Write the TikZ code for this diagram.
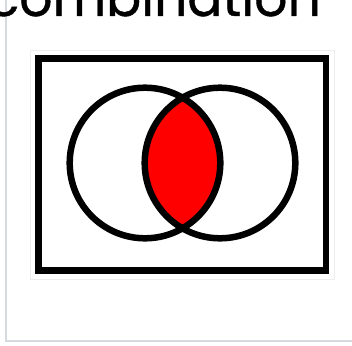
\documentclass[tikz,border=0pt]{standalone}
\usepackage{fontspec}
\setmainfont{Poppins}
\newfontfamily\titlefont{Poppins}[FakeBold=0.8]
\begin{document}
\begin{tikzpicture}[x=1pt,y=-1pt,
  imgframe/.style={draw=black!7, line width=1pt},
  venn/.style={draw=black, line width=6.5pt}]
\useasboundingbox (0,0) rectangle (352,345);
\fill[white] (0,0) rectangle (352,345);
% outer light frame
\draw[draw={rgb,255:red,214;green,218;blue,224}, line width=1.5pt] (6,-20) -- (6,341) -- (370,341);
% image frame
\draw[imgframe] (30,50) rectangle (334,279);
% title text
\node[anchor=base east, inner sep=0pt, font=\titlefont\fontsize{52}{60}\selectfont] (title) at (321,16) {combination};
% venn
\coordinate (cA) at (145,163);
\coordinate (cB) at (220,163);
\begin{scope}
  \clip (cA) circle[radius=75.3];
  \fill[red] (cB) circle[radius=75.3];
\end{scope}
\draw[venn] (38.5,58.5) rectangle (326,270.5);
\draw[venn] (cA) circle[radius=75.3];
\draw[venn] (cB) circle[radius=75.3];
\end{tikzpicture}
\end{document}
